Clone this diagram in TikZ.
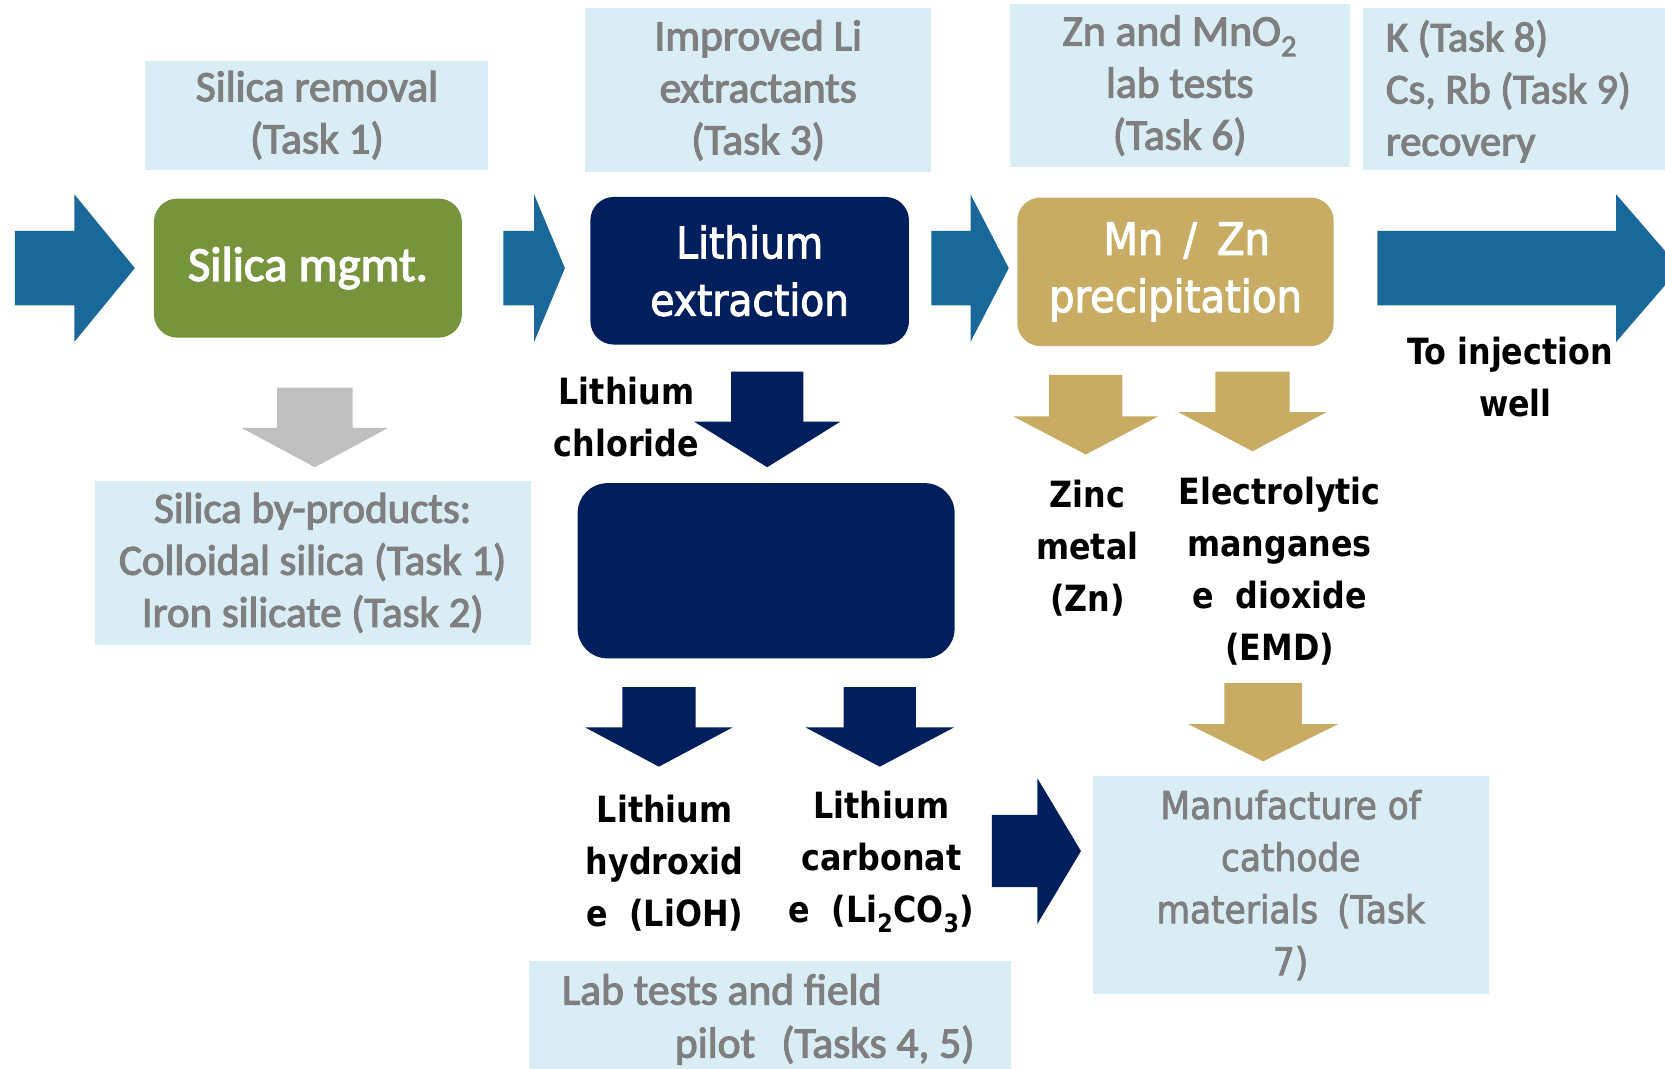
\documentclass[tikz,border=0pt]{standalone}
\usepackage{fontspec}
\setmainfont{Carlito}[FakeBold=2.6]
\newfontfamily\tahfont{DejaVu Sans}[FakeStretch=0.9, FakeBold=2.2]
\newfontfamily\tahbold{DejaVu Sans Bold}[FakeStretch=0.88]
\definecolor{flowblue}{HTML}{1A6899}
\definecolor{navyblue}{HTML}{001F5C}
\definecolor{olivegreen}{HTML}{77933C}
\definecolor{sandtan}{HTML}{C8AC63}
\definecolor{paleblue}{HTML}{DAECF4}
\definecolor{taskgrey}{HTML}{7F7F7F}
\definecolor{arrowgrey}{HTML}{BFBFBF}

% block arrow pointing right: tail x, head base x, tip x, mid y, shaft half height, head half height, colour
\newcommand\rightblock[7]{%
  \fill[#7] (#1,{#4-#5}) -- (#2,{#4-#5}) -- (#2,{#4-#6}) -- (#3,#4) -- (#2,{#4+#6}) -- (#2,{#4+#5}) -- (#1,{#4+#5}) -- cycle;}
% block arrow pointing down: mid x, shaft half width, head half width, top y, head base y, tip y, colour
\newcommand\downblock[7]{%
  \fill[#7] ({#1-#2},#4) -- ({#1+#2},#4) -- ({#1+#2},#5) -- ({#1+#3},#5) -- (#1,#6) -- ({#1-#3},#5) -- ({#1-#2},#5) -- cycle;}

\begin{document}
\begin{tikzpicture}[x=1pt,y=-1pt,
  taskbox/.style={fill=paleblue, text=taskgrey, inner sep=0pt, align=center,
    font=\fontsize{41}{49}\selectfont},
  procbox/.style={rounded corners=22pt, inner sep=0pt, text=white, align=center},
  outlabel/.style={inner sep=0pt, align=center, text=black,
    font=\tahbold\fontsize{34}{49}\selectfont}]
\useasboundingbox (0,0) rectangle (1568,1006);
\clip (0,0) rectangle (1568,1006);

% task boxes along the top
\node[taskbox, minimum width=323pt, minimum height=103pt] (silrem) at (298.5,108.5) {Silica removal\\(Task 1)};
\node[taskbox, minimum width=326pt, minimum height=154pt] (liext) at (714,85) {Improved Li\\extractants\\(Task 3)};
\node[taskbox, minimum width=320pt, minimum height=153pt] (znlab) at (1111,80.5) {Zn and MnO\textsubscript{2}\\lab tests\\(Task 6)};
\node[taskbox, minimum width=291pt, minimum height=152pt] (kbox) at (1429.5,84) {};
\node[inner sep=0pt, align=left, text=taskgrey, anchor=west, font=\fontsize{40}{49}\selectfont] (ktext) at (1305,86) {K (Task 8)\\Cs, Rb (Task 9)\\recovery};

% main process line
\rightblock{14}{70}{127}{252.5}{35}{69.5}{flowblue}
\node[procbox, fill=olivegreen, minimum width=290pt, minimum height=131pt, font=\fontsize{46}{54}\selectfont] (silmg) at (290,252.5) {Silica mgmt.};
\rightblock{474}{503}{532}{252.5}{35}{69.5}{flowblue}
\node[procbox, fill=navyblue, minimum width=300pt, minimum height=139pt, font=\tahfont\fontsize{41}{54}\selectfont] (liproc) at (706,255) {Lithium\\extraction};
\rightblock{877}{914}{950}{252.5}{35}{69.5}{flowblue}
\node[procbox, fill=sandtan, minimum width=298pt, minimum height=140pt, font=\tahfont\fontsize{42}{54}\selectfont] (mnzn) at (1107,256) {\hspace{0.5em}Mn\hspace{0.45em}/\hspace{0.45em}Zn\\precipitation};
\rightblock{1297}{1522}{1582}{252.5}{35}{69.5}{flowblue}
\node[outlabel] (inject) at (1422,355) {To injection\\\hspace{0.3em}well};

% silica branch
\downblock{296.5}{35.5}{69}{365}{403}{440}{arrowgrey}
\node[taskbox, minimum width=411pt, minimum height=154pt, font=\fontsize{40.5}{49}\selectfont] (silby) at (294.5,530) {Silica by-products:\\Colloidal silica (Task 1)\\Iron silicate (Task 2)};

% lithium branch
\node[outlabel] (licl) at (590,393) {Lithium\\chloride};
\downblock{722.5}{34}{69}{350}{397}{440}{navyblue}
\node[procbox, rounded corners=28pt, fill=navyblue, minimum width=355pt, minimum height=165pt] (liconv) at (721.5,537.5) {};
\downblock{620.5}{34.5}{69.5}{647}{685}{722}{navyblue}
\downblock{828.5}{34}{70}{647}{685}{722}{navyblue}
\node[outlabel] (lioh) at (626,813) {Lithium\\hydroxid\\e\hspace{0.6em}(LiOH)};
\node[outlabel] (lico) at (830,812) {Lithium\\carbonat\\e\hspace{0.6em}(Li\textsubscript{2}CO\textsubscript{3})};
\rightblock{934}{977}{1018}{801.5}{34}{68.5}{navyblue}
\node[taskbox, minimum width=454pt, minimum height=105pt] (labfield) at (725,957.5) {};
\node[inner sep=0pt, anchor=base west, text=taskgrey, font=\fontsize{41}{49}\selectfont] (labl1) at (529,946) {Lab tests and field};
\node[inner sep=0pt, anchor=base east, text=taskgrey, font=\fontsize{41}{49}\selectfont] (labl2) at (918,996) {pilot\hspace{0.6em}(Tasks 4, 5)};

% manganese / zinc branch
\downblock{1022.5}{34.5}{68.5}{353}{392}{428}{sandtan}
\downblock{1179.5}{35}{70}{350}{388}{425}{sandtan}
\node[outlabel] (zinc) at (1024,516) {Zinc\\metal\\(Zn)};
\node[outlabel] (emd) at (1205,538) {Electrolytic\\manganes\\e\hspace{0.6em}dioxide\\(EMD)};
\downblock{1189.5}{36.5}{70.5}{643}{682}{717}{sandtan}
\node[taskbox, minimum width=373pt, minimum height=205pt, font=\tahfont\fontsize{36}{49}\selectfont] (cathode) at (1215.5,833.5) {Manufacture of\\cathode\\materials\hspace{0.5em}(Task\\7)};
\end{tikzpicture}
\end{document}
